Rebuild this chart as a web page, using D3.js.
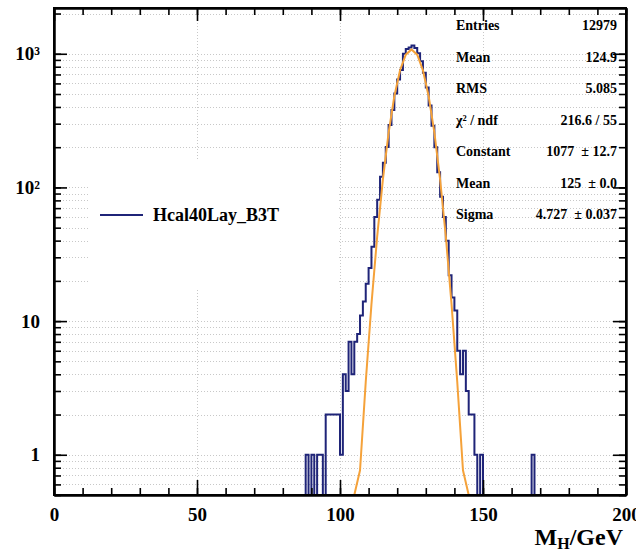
<!DOCTYPE html>
<html>
<head>
<meta charset="utf-8">
<script src="https://cdn.jsdelivr.net/npm/d3@7"></script>
<style>
  html, body { margin: 0; padding: 0; background: #fff; }
  svg { display: block; }
  text { font-family: "Liberation Serif", "Times New Roman", serif; font-weight: bold; fill: #000; }
</style>
</head>
<body>
<svg id="chart" width="636" height="553"></svg>
<script>
// Reconstructed Higgs mass histogram, 1 GeV bins (lower edges of the filled bins)
const binLowEdges = [
  88, 90, 92, 93, 95, 96, 97, 98, 99, 100,
  101, 102, 103, 104, 105, 106, 107, 108, 109, 110,
  111, 112, 113, 114, 115, 116, 117, 118, 119, 120,
  121, 122, 123, 124, 125, 126, 127, 128, 129, 130,
  131, 132, 133, 134, 135, 136, 137, 138, 139, 140,
  141, 142, 143, 144, 145, 146, 147, 149, 167
];
const binCounts = [
  1, 1, 1, 1, 2, 2, 2, 2, 2, 1,
  4, 3, 7, 4, 7, 8, 11, 14, 19, 25,
  36, 60, 81, 120, 153, 201, 293, 379, 505, 643,
  755, 1000, 1085, 1115, 1155, 1105, 1010, 880, 720, 560,
  410, 290, 200, 130, 85, 60, 40, 22, 15, 12,
  6, 4, 6, 3, 2, 2, 1, 1, 1
];

// Gaussian fit result
const fitConstant = 1077;
const fitMean = 125;
const fitSigma = 4.727;

// Axis settings
const xDomain = [0, 200];
const yDomain = [0.5, 2200];
const xMajorTicks = [0, 50, 100, 150, 200];
const yMajorTicks = [1, 10, 100, 1000];
const yTickLabels = ["1", "10", "10\u00B2", "10\u00B3"];

// Statistics box
const statNames = ["Entries", "Mean", "RMS", "\u03C7\u00B2 / ndf", "Constant", "Mean", "Sigma"];
const statValues = ["12979", "124.9", "5.085", "216.6 / 55", "1077  \u00B1 12.7", "125  \u00B1 0.0", "4.727  \u00B1 0.037"];

const legendLabel = "Hcal40Lay_B3T";

const histColor = "#1f2478";
const fitColor = "#f5a23a";

const svg = d3.select("#chart");
const frame = { left: 54, right: 626, top: 8, bottom: 495 };

const x = d3.scaleLinear().domain(xDomain).range([frame.left, frame.right]);
const y = d3.scaleLog().domain(yDomain).range([frame.bottom, frame.top]);

// Full 200-bin array built from the filled bins
const nBins = 200;
const counts = new Array(nBins).fill(0);
binLowEdges.forEach((b, i) => { counts[b] = binCounts[i]; });

svg.append("defs").append("clipPath").attr("id", "plotClip")
  .append("rect")
  .attr("x", frame.left).attr("y", frame.top)
  .attr("width", frame.right - frame.left).attr("height", frame.bottom - frame.top);

// Minor log tick values
const yMinorTicks = [];
for (let e = -1; e <= 3; e++) {
  for (let m = 1; m <= 9; m++) {
    const v = m * Math.pow(10, e);
    if (v >= yDomain[0] && v <= yDomain[1]) yMinorTicks.push(+v.toPrecision(3));
  }
}
const xMinorTicks = d3.range(0, 201, 10);

// Dotted grid
const grid = svg.append("g").attr("stroke", "#c8c8c8").attr("stroke-width", 1).attr("stroke-dasharray", "1,2");
grid.selectAll("line.h").data(yMinorTicks).join("line")
  .attr("x1", frame.left).attr("x2", frame.right)
  .attr("y1", d => Math.round(y(d)) + 0.5).attr("y2", d => Math.round(y(d)) + 0.5);
grid.selectAll("line.v").data(xMajorTicks.slice(1, -1)).join("line")
  .attr("y1", frame.top).attr("y2", frame.bottom)
  .attr("x1", d => Math.round(x(d)) + 0.5).attr("x2", d => Math.round(x(d)) + 0.5);

// Legend box (white, covers grid)
const legend = svg.append("g");
legend.append("rect").attr("x", 89).attr("y", 160).attr("width", 248).attr("height", 128).attr("fill", "#fff");
legend.append("line").attr("x1", 100).attr("x2", 143).attr("y1", 215).attr("y2", 215)
  .attr("stroke", histColor).attr("stroke-width", 2);
legend.append("text").attr("x", 153).attr("y", 221).attr("font-size", 18).text(legendLabel);

// Histogram outline
const plot = svg.append("g").attr("clip-path", "url(#plotClip)");
const yBottom = frame.bottom + 3;
const histPts = [[x(0), yBottom]];
counts.forEach((c, i) => {
  const yy = c > 0 ? y(c) : yBottom;
  histPts.push([x(i), yy], [x(i + 1), yy]);
});
histPts.push([x(nBins), yBottom]);
plot.append("path")
  .attr("d", d3.line()(histPts))
  .attr("fill", "none").attr("stroke", histColor).attr("stroke-width", 2)
  .attr("stroke-linejoin", "miter");

// Fit function sampled at 100 points, floored at the axis minimum
const gauss = v => fitConstant * Math.exp(-0.5 * Math.pow((v - fitMean) / fitSigma, 2));
const samples = d3.range(1, 200, 2).map(v => ({ v, f: gauss(v) }));
const keep = samples.filter((s, i) =>
  s.f >= yDomain[0] ||
  (i > 0 && samples[i - 1].f >= yDomain[0]) ||
  (i < samples.length - 1 && samples[i + 1].f >= yDomain[0]));
plot.append("path")
  .attr("d", d3.line().x(s => x(s.v)).y(s => y(Math.max(s.f, yDomain[0])))(keep))
  .attr("fill", "none").attr("stroke", fitColor).attr("stroke-width", 2);

// Axes: ticks drawn inward on all four sides
function styleAxis(g) {
  g.select(".domain").attr("stroke", "#000").attr("stroke-width", 2);
  g.selectAll(".tick line").attr("stroke", "#000").attr("stroke-width", 1.6);
  g.selectAll("text").attr("font-family", "Liberation Serif, serif").attr("font-weight", "bold")
    .attr("font-size", 19).attr("fill", "#000");
}

svg.append("g").attr("transform", `translate(0,${frame.bottom})`)
  .call(d3.axisBottom(x).tickValues(xMinorTicks).tickSize(-7).tickSizeOuter(0).tickFormat(""))
  .call(styleAxis);
svg.append("g").attr("transform", `translate(0,${frame.bottom})`)
  .call(d3.axisBottom(x).tickValues(xMajorTicks).tickSize(-15).tickSizeOuter(0).tickPadding(13).tickFormat(d3.format("d")))
  .call(styleAxis);

svg.append("g").attr("transform", `translate(0,${frame.top})`)
  .call(d3.axisTop(x).tickValues(xMinorTicks).tickSize(-7).tickSizeOuter(0).tickFormat(""))
  .call(styleAxis);
svg.append("g").attr("transform", `translate(0,${frame.top})`)
  .call(d3.axisTop(x).tickValues(xMajorTicks).tickSize(-13).tickSizeOuter(0).tickFormat(""))
  .call(styleAxis);

svg.append("g").attr("transform", `translate(${frame.left},0)`)
  .call(d3.axisLeft(y).tickValues(yMinorTicks).tickSize(-7).tickSizeOuter(0).tickFormat(""))
  .call(styleAxis);
svg.append("g").attr("transform", `translate(${frame.left},0)`)
  .call(d3.axisLeft(y).tickValues(yMajorTicks).tickSize(-13).tickSizeOuter(0).tickPadding(14)
    .tickFormat((d, i) => yTickLabels[i]))
  .call(styleAxis);

svg.append("g").attr("transform", `translate(${frame.right},0)`)
  .call(d3.axisRight(y).tickValues(yMinorTicks).tickSize(-7).tickSizeOuter(0).tickFormat(""))
  .call(styleAxis);
svg.append("g").attr("transform", `translate(${frame.right},0)`)
  .call(d3.axisRight(y).tickValues(yMajorTicks).tickSize(-13).tickSizeOuter(0).tickFormat(""))
  .call(styleAxis);

// Frame
svg.append("rect")
  .attr("x", frame.left).attr("y", frame.top)
  .attr("width", frame.right - frame.left).attr("height", frame.bottom - frame.top)
  .attr("fill", "none").attr("stroke", "#000").attr("stroke-width", 2);

// X axis title
const xt = svg.append("text").attr("x", 623).attr("y", 545).attr("text-anchor", "end").attr("font-size", 24);
xt.append("tspan").text("M");
xt.append("tspan").attr("font-size", 16).attr("dy", 4).text("H");
xt.append("tspan").attr("dy", -4).text("/GeV");

// Statistics box (transparent, no border)
const stats = svg.append("g").attr("font-size", 14);
statNames.forEach((n, i) => {
  const by = 30 + i * 31.5;
  stats.append("text").attr("x", 456).attr("y", by).attr("font-size", 14).text(n);
  stats.append("text").attr("x", 617).attr("y", by).attr("font-size", 14)
    .attr("text-anchor", "end").attr("xml:space", "preserve").text(statValues[i]);
});
</script>
</body>
</html>
